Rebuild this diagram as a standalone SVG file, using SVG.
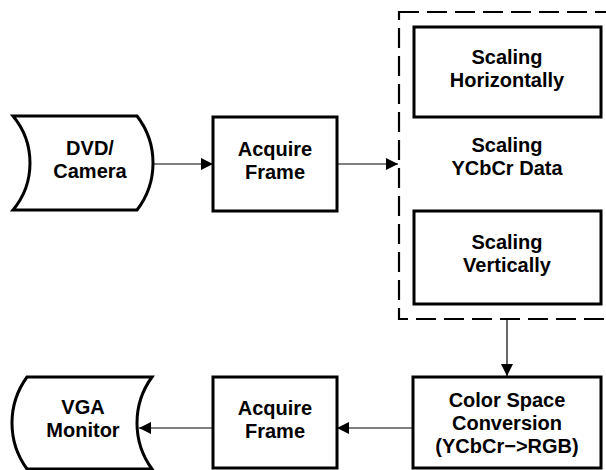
<svg xmlns="http://www.w3.org/2000/svg" width="606" height="470" viewBox="0 0 606 470">
<style>
.node{fill:#fff;stroke:#000;stroke-width:3}
.grp{fill:none;stroke:#000;stroke-width:2.2;stroke-dasharray:20 8}
.conn{fill:none;stroke:#000;stroke-width:1.2}
text{font-family:"Liberation Sans",Arial,sans-serif;font-weight:bold;font-size:20px;text-anchor:middle;fill:#000}
</style>
<defs>
<marker id="arr" viewBox="0 0 12 12" refX="12" refY="6" markerWidth="12" markerHeight="12" markerUnits="userSpaceOnUse" orient="auto">
<path d="M0,0 L12,6 L0,12 Z" fill="#000"/>
</marker>
</defs>
<g id="group-scaling">
<rect class="grp" x="399" y="12" width="215" height="307"/>
<text x="507" y="152">Scaling</text>
<text x="507" y="175">YCbCr Data</text>
</g>
<g id="dvd">
<path class="node" d="M13,116 L137,116 A77,77 0 0 1 137,210 L13,210 A73.5,73.5 0 0 0 13,116 Z"/>
<text x="90" y="155">DVD/</text>
<text x="90" y="178">Camera</text>
</g>
<g id="acquire1">
<rect class="node" x="213" y="117" width="124" height="94"/>
<text x="275" y="156">Acquire</text>
<text x="275" y="179">Frame</text>
</g>
<g id="scaleH">
<rect class="node" x="414" y="27" width="187" height="90"/>
<text x="507" y="64">Scaling</text>
<text x="507" y="87">Horizontally</text>
</g>
<g id="scaleV">
<rect class="node" x="414" y="211" width="187" height="93"/>
<text x="507" y="249">Scaling</text>
<text x="507" y="272">Vertically</text>
</g>
<g id="csc">
<rect class="node" x="413" y="377" width="188" height="91"/>
<text x="507" y="407">Color Space</text>
<text x="507" y="430">Conversion</text>
<text x="507" y="453">(YCbCr−&gt;RGB)</text>
</g>
<g id="acquire2">
<rect class="node" x="213" y="377" width="124" height="91"/>
<text x="275" y="415">Acquire</text>
<text x="275" y="438">Frame</text>
</g>
<g id="vga">
<path class="node" d="M27,377 L152,377 A78,78 0 0 0 152,469 L27,469 A78,78 0 0 1 27,377 Z"/>
<text x="83" y="414">VGA</text>
<text x="83" y="437">Monitor</text>
</g>
<g id="connectors">
<line class="conn" x1="153" y1="164" x2="213" y2="164" marker-end="url(#arr)"/>
<line class="conn" x1="337" y1="164" x2="398" y2="164" marker-end="url(#arr)"/>
<line class="conn" x1="507" y1="319" x2="507" y2="376" marker-end="url(#arr)"/>
<line class="conn" x1="413" y1="428" x2="337" y2="428" marker-end="url(#arr)"/>
<line class="conn" x1="213" y1="428" x2="139" y2="428" marker-end="url(#arr)"/>
</g>
</svg>
